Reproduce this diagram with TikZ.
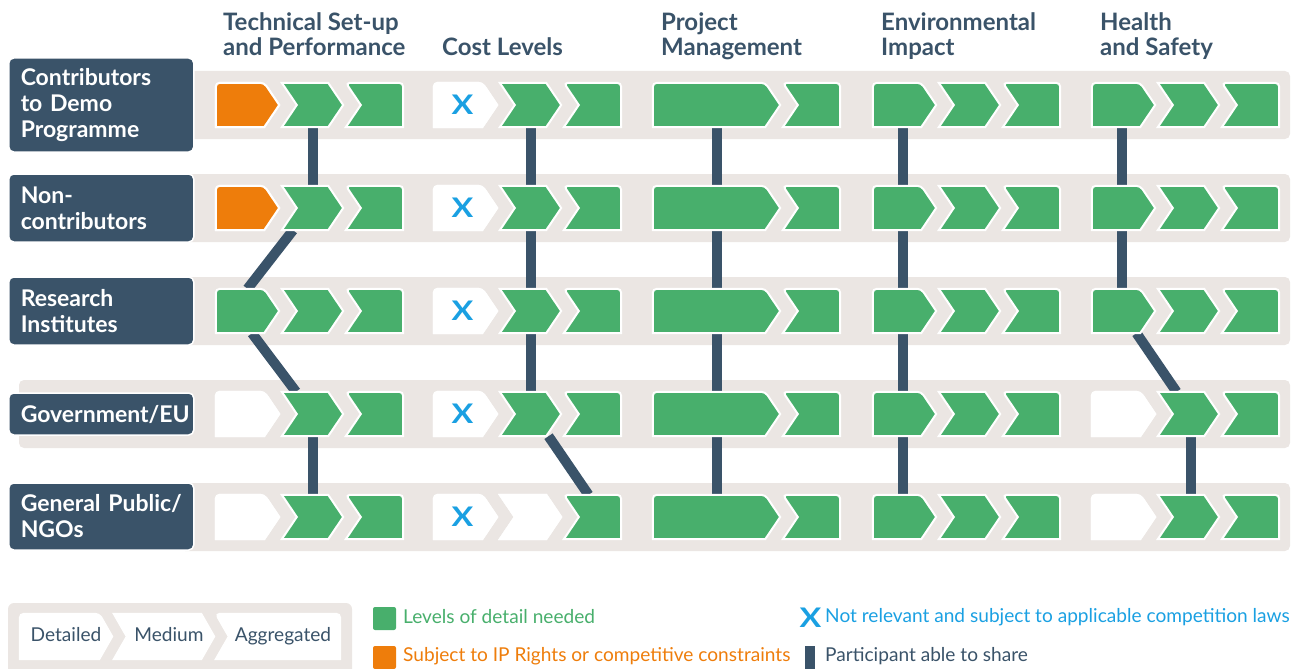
\documentclass[tikz,border=0pt]{standalone}
\usepackage{fontspec}
\setmainfont{Lato}
\usetikzlibrary{positioning}

\definecolor{slate}{HTML}{3A5369}
\definecolor{leaf}{HTML}{48AF6C}
\definecolor{amber}{HTML}{EE7D0B}
\definecolor{sand}{HTML}{EBE6E3}
\definecolor{sky}{HTML}{1AA0E2}

% depth of the arrow points
\def\dd{15}
% first piece: flat left, pointed right
\newcommand{\chevA}[2]{\filldraw[chev,fill=#2] (#1.east) -- ([xshift=-\dd]#1.south east) -- (#1.south west) [rounded corners=4pt] -- (#1.north west) -- ([xshift=-\dd]#1.north east) [sharp corners] -- cycle;}
% middle piece: notch left, pointed right
\newcommand{\chevB}[2]{\filldraw[chev,fill=#2] ([xshift=\dd]#1.west) -- (#1.south west) -- ([xshift=-\dd]#1.south east) -- (#1.east) -- ([xshift=-\dd]#1.north east) -- (#1.north west) -- cycle;}
% last piece: notch left, flat right
\newcommand{\chevC}[2]{\filldraw[chev,fill=#2] ([xshift=\dd]#1.west) -- (#1.south west) -- (#1.south east) [rounded corners=4pt] -- (#1.north east) -- (#1.north west) [sharp corners] -- cycle;}

\begin{document}
\begin{tikzpicture}[x=1pt,y=-1pt,
  cell/.style={inner sep=0pt,minimum height=44pt},
  chev/.style={draw=white,line width=2pt},
  bar/.style={slate,line width=10pt},
  rowlab/.style={fill=slate,draw=white,line width=1.5pt,rounded corners=5pt,text=white,
    font=\bfseries\fontsize{23}{26}\selectfont,text width=161pt,inner xsep=12pt,inner ysep=0pt,
    align=left,minimum width=185pt,anchor=west},
  head/.style={text=slate,font=\bfseries\fontsize{24}{25}\selectfont,align=left,anchor=north west,inner sep=0pt},
  xmark/.style={text=sky,font=\bfseries\fontsize{27}{27}\selectfont,inner sep=0pt},
  keytext/.style={font=\fontsize{19.1}{22}\selectfont,anchor=base west,inner sep=0pt},
  key/.style={minimum size=23pt,inner sep=0pt,rounded corners=2pt}]
\useasboundingbox (0,0) rectangle (1302,669);

% bands
\foreach \y in {105,208,311,517}
  \fill[sand,rounded corners=5pt] (180,\y-34) rectangle (1290,\y+34);
\fill[sand,rounded corners=5pt] (19,380) rectangle (1290,448);

% rows
\node[rowlab,minimum height=94pt] (lab1) at (8,105) {Contributors\\to Demo\\Programme};
\node[rowlab,minimum height=68pt] (lab2) at (8,208) {Non-\\contributors};
\node[rowlab,minimum height=68pt] (lab3) at (8,311) {Research\\Institutes};
\node[rowlab,minimum height=42pt] (lab4) at (8,414) {Government/EU};
\node[rowlab,minimum height=67pt] (lab5) at (8,516.5) {\mbox{General Public/}\\NGOs};

% columns
\node[head] (h1) at (223,12.5) {Technical Set-up\\and Performance};
\node[head] (h2) at (442,37.5) {Cost Levels};
\node[head] (h3) at (661,12.5) {Project\\Management};
\node[head] (h4) at (881,12.5) {Environmental\\Impact};
\node[head] (h5) at (1100,12.5) {Health\\and Safety};

% cells
\foreach \r/\y in {1/105,2/208,3/311,4/414,5/517}{
  \foreach \g/\s in {1/216,2/434,4/873,5/1092}{
    \node[cell,minimum width=63pt] (g\g-\r-a) at (\s+31.5,\y) {};
    \node[cell,minimum width=61pt] (g\g-\r-b) at (\s+96.5,\y) {};
    \node[cell,minimum width=57pt] (g\g-\r-c) at (\s+158.5,\y) {};
  }
  \node[cell,minimum width=127pt] (g3-\r-a) at (716.5,\y) {};
  \node[cell,minimum width=57pt] (g3-\r-c) at (811.5,\y) {};
}

% who shares with whom
\draw[bar] (g1-1-b.south) -- (g1-2-b.north);
\draw[bar] ([xshift=-19.5]g1-2-b.south) -- (g1-3-a.north);
\draw[bar] ([xshift=4.5]g1-3-a.south) -- ([xshift=-16.5]g1-4-b.north);
\draw[bar] (g1-4-b.south) -- (g1-5-b.north);
\foreach \r/\n in {1/2,2/3,3/4}
  \draw[bar] (g2-\r-b.south) -- (g2-\n-b.north);
\draw[bar] ([xshift=18]g2-4-b.south) -- ([xshift=-4]g2-5-c.north);
\foreach \r/\n in {1/2,2/3,3/4,4/5}{
  \draw[bar] (g3-\r-a.south) -- (g3-\n-a.north);
  \draw[bar] ([xshift=-2]g4-\r-a.south) -- ([xshift=-2]g4-\n-a.north);
}
\foreach \r/\n in {1/2,2/3}
  \draw[bar] ([xshift=-2]g5-\r-a.south) -- ([xshift=-2]g5-\n-a.north);
\draw[bar] ([xshift=13]g5-3-a.south) -- ([xshift=-12]g5-4-b.north);
\draw[bar] ([xshift=2.5]g5-4-b.south) -- ([xshift=2.5]g5-5-b.north);

% chevrons
\foreach \r in {1,...,5}{
  \foreach \g in {1,2,4,5}{
    \chevA{g\g-\r-a}{leaf}
    \chevB{g\g-\r-b}{leaf}
    \chevC{g\g-\r-c}{leaf}
  }
  \chevA{g3-\r-a}{leaf}
  \chevC{g3-\r-c}{leaf}
  \chevA{g2-\r-a}{white}
  \node[xmark] (x\r) at ([xshift=-3]g2-\r-a.center) {\scalebox{1.2}[1]{X}};
}
\chevA{g1-1-a}{amber}
\chevA{g1-2-a}{amber}
\chevA{g1-4-a}{white}
\chevA{g1-5-a}{white}
\chevB{g2-5-b}{white}
\chevA{g5-4-a}{white}
\chevA{g5-5-a}{white}

% legend
\fill[sand,rounded corners=6pt] (8,603) rectangle (352,690);
\def\dd{13}
\node[cell,minimum height=45pt,minimum width=92pt] (lg-a) at (66,636.5) {};
\node[cell,minimum height=45pt,minimum width=100pt] (lg-b) at (164,636.5) {};
\node[cell,minimum height=45pt,minimum width=124pt] (lg-c) at (278,636.5) {};
\chevA{lg-a}{white}
\chevB{lg-b}{white}
\chevC{lg-c}{white}
\node[keytext,text=slate,anchor=base] (lt-a) at (66,641) {Detailed};
\node[keytext,text=slate,anchor=base] (lt-b) at (169,641) {Medium};
\node[keytext,text=slate,anchor=base] (lt-c) at (283,641) {Aggregated};

\node[key,fill=leaf] (kg) at (384.5,618.5) {};
\node[keytext,text=leaf] (kgt) at (403,623) {Levels of detail needed};
\node[key,fill=amber] (ko) at (384.5,657.5) {};
\node[keytext,text=amber] (kot) at (403,661) {Subject to IP Rights or competitive constraints};
\node[xmark,anchor=base] (kx) at (810.5,627) {\scalebox{1.2}[1]{X}};
\node[keytext,text=sky] (kxt) at (825,622) {Not relevant and subject to applicable competition laws};
\node[fill=slate,inner sep=0pt,minimum width=10pt,minimum height=23pt] (kb) at (810,657.5) {};
\node[keytext,text=slate] (kbt) at (825,661) {Participant able to share};
\end{tikzpicture}
\end{document}
